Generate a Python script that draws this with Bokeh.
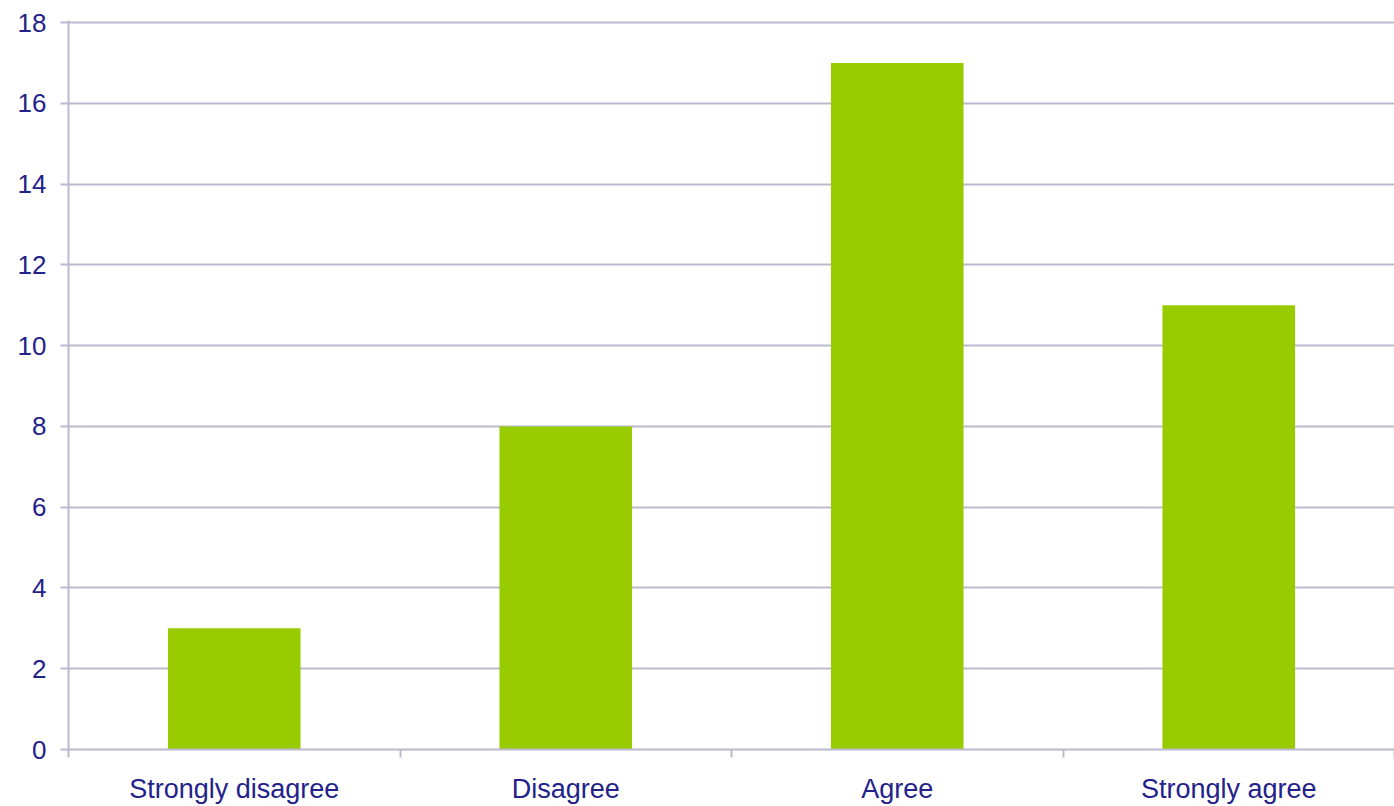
from bokeh.plotting import figure
from bokeh.models import Range1d, FixedTicker, ColumnDataSource
from bokeh.embed import file_html
from bokeh.resources import INLINE

categories = ["Strongly disagree", "Disagree", "Agree", "Strongly agree"]
counts = [3, 8, 17, 11]
y_ticks = [0, 2, 4, 6, 8, 10, 12, 14, 16, 18]

positions = [i + 0.5 for i in range(len(categories))]
boundaries = [i for i in range(len(categories) + 1)]

src = ColumnDataSource(dict(x=positions, top=counts, label=categories))

p = figure(width=1394, height=806, output_backend="svg", toolbar_location=None,
           x_range=Range1d(0, len(categories)), y_range=Range1d(0, 18.05),
           min_border_left=68, min_border_right=0, min_border_top=20, min_border_bottom=56)
p.outline_line_color = None
p.background_fill_color = "white"
p.border_fill_color = "white"

p.vbar(x="x", top="top", width=0.4, source=src, color="#99CC00", line_color=None)

navy = "#22228a"
grid = "#b9b9cf"

p.xaxis.ticker = FixedTicker(ticks=positions, minor_ticks=boundaries)
p.xaxis.major_label_overrides = {pos: lab for pos, lab in zip(positions, categories)}
p.xaxis.major_tick_line_color = None
p.xaxis.major_tick_out = 0
p.xaxis.major_tick_in = 0
p.xaxis.minor_tick_line_color = grid
p.xaxis.minor_tick_line_width = 2
p.xaxis.minor_tick_out = 8
p.xaxis.minor_tick_in = 0
p.xaxis.axis_line_color = grid
p.xaxis.axis_line_width = 2
p.xaxis.major_label_text_color = navy
p.xaxis.major_label_text_font = "Liberation Sans"
p.xaxis.major_label_text_font_size = "27px"
p.xaxis.major_label_standoff = 16

p.yaxis.ticker = FixedTicker(ticks=y_ticks, minor_ticks=[])
p.yaxis.axis_line_color = grid
p.yaxis.axis_line_width = 2
p.yaxis.major_tick_line_color = grid
p.yaxis.major_tick_line_width = 2
p.yaxis.major_tick_out = 8
p.yaxis.major_tick_in = 0
p.yaxis.minor_tick_line_color = None
p.yaxis.major_label_text_color = navy
p.yaxis.major_label_text_font = "Liberation Sans"
p.yaxis.major_label_text_font_size = "26px"
p.yaxis.major_label_standoff = 14

p.xgrid.grid_line_color = None
p.ygrid.grid_line_color = grid
p.ygrid.grid_line_width = 2
p.ygrid.ticker = FixedTicker(ticks=y_ticks)

open("out.html", "w").write(file_html(p, INLINE))
